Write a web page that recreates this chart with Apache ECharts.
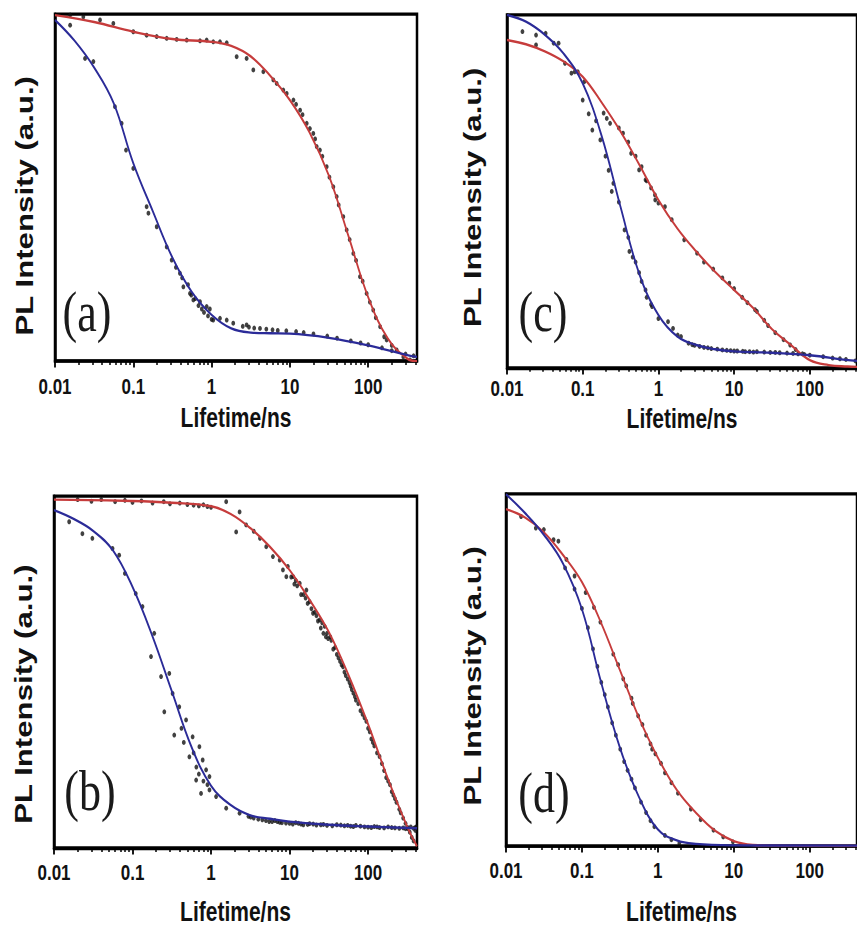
<!DOCTYPE html>
<html>
<head>
<meta charset="utf-8">
<title>PL decay</title>
<script src="https://cdn.jsdelivr.net/npm/echarts@6/dist/echarts.min.js"></script>
<style>
  html, body { margin: 0; padding: 0; width: 857px; height: 926px; background: #fff; overflow: hidden; }
  #wrap { position: relative; width: 857px; height: 926px; overflow: hidden; }
  /* the figure is laid out at 857x712 and stretched vertically to fill 857x926 */
  #chart { position: absolute; left: 0; top: 0; width: 857px; height: 712px; transform: scaleY(1.3006); transform-origin: 0 0; }
</style>
</head>
<body>
<div id="wrap"><div id="chart"></div></div>
<script>
// ---- axis ticks ----
const tickValues = [0.01, 0.1, 1, 10, 100];
const tickLabels = ['0.01', '0.1', '1', '10', '100'];
const minorTickValues = [0.02, 0.03, 0.04, 0.05, 0.06, 0.07, 0.08, 0.09,
  0.2, 0.3, 0.4, 0.5, 0.6, 0.7, 0.8, 0.9,
  2, 3, 4, 5, 6, 7, 8, 9,
  20, 30, 40, 50, 60, 70, 80, 90,
  200, 300, 400];
const xMin = 0.01;
const xMax = 420;
const panelTags = ['(a)', '(b)', '(c)', '(d)'];
const xTitle = 'Lifetime/ns';
const yTitle = 'PL Intensity (a.u.)';

// ---- panel (a): [lifetime ns, normalised intensity] ----
const aRedFit = [[0.01,.997],[0.0316,.977],[0.1,.949],[0.316,.928],[1,.92],[1.78,.908],[3.16,.878],[5.62,.822],[10,.752],[17.8,.659],[31.6,.533],[56.2,.359],[100,.184],[178,.065],[316,.007],[420,0]];
const aBlueFit = [[0.01,.983],[0.0178,.923],[0.0316,.846],[0.0562,.743],[0.1,.57],[0.178,.431],[0.316,.298],[0.562,.198],[1,.133],[1.78,.094],[3.16,.082],[5.62,.08],[10,.079],[31.6,.067],[100,.045],[316,.017],[420,.012]];
const aRedData = [[0.0156,.997],[0.023,.992],[0.0376,.983],[0.0556,.973],[0.1,.949],[0.148,.939],[0.199,.935],[0.267,.93],[0.358,.927],[0.481,.925],[0.711,.923],[0.865,.925],[1.05,.92],[1.28,.92],[1.56,.917],[2.09,.877],[2.8,.872],[3.41,.839],[4.58,.834],[6.14,.81],[6.78,.8],[8.24,.781],[9.1,.771],[11.1,.752],[12,.74],[13.5,.723],[14.5,.71],[16.4,.685],[18,.67],[19.9,.656],[21,.64],[22,.618],[24.2,.608],[26,.59],[29.5,.56],[32,.53],[35.9,.502],[39.6,.474],[42,.45],[48.1,.416],[53.1,.378],[58,.35],[64.6,.31],[70,.29],[78.5,.243],[85,.23],[95.5,.195],[105,.17],[116,.147],[125,.125],[142,.099],[160,.07],[172,.061],[200,.045],[231,.032],[281,.012],[342,.003]];
const aBlueData = [[0.0156,.968],[0.0242,.872],[0.0309,.863],[0.0583,.733],[0.071,.685],[0.0807,.608],[0.1,.555],[0.148,.445],[0.156,.426],[0.199,.387],[0.267,.329],[0.309,.291],[0.35,.27],[0.394,.253],[0.42,.24],[0.436,.214],[0.5,.22],[0.53,.195],[0.55,.19],[0.585,.176],[0.62,.18],[0.68,.16],[0.711,.171],[0.75,.15],[0.8,.14],[0.865,.157],[0.9,.13],[0.95,.15],[1.0,.12],[1.05,.118],[1.28,.123],[1.56,.118],[1.89,.109],[2.5,.1],[2.8,.104],[3,.098],[3.5,.095],[4.15,.094],[5,.092],[6,.09],[7,.088],[9,.087],[12,.085],[15,.082],[20,.078],[30,.072],[40,.066],[60,.058],[80,.052],[100,.047],[150,.038],[200,.03],[300,.02],[380,.015]];

// ---- panel (b) ----
const bRedFit = [[0.01,.99],[0.1,.986],[0.316,.981],[1,.971],[1.78,.949],[3.16,.909],[5.62,.856],[10,.79],[17.8,.707],[31.6,.614],[56.2,.492],[100,.352],[178,.198],[316,.06],[420,.005]];
const bBlueFit = [[0.01,.96],[0.0178,.935],[0.0316,.901],[0.0562,.846],[0.1,.742],[0.178,.604],[0.316,.446],[0.562,.288],[1,.177],[1.78,.122],[3.16,.093],[5.62,.083],[10,.075],[31.6,.066],[100,.061],[420,.056]];
const bRedData = [[0.02,.99],[0.03,.985],[0.04,.99],[0.06,.984],[0.08,.988],[0.1,.982],[0.13,.986],[0.18,.98],[0.25,.984],[0.3,.978],[0.4,.98],[0.5,.976],[0.6,.974],[0.7,.972],[0.8,.975],[0.9,.97],[1.0,.968],[1.56,.984],[2.09,.898],[2.31,.955],[2.8,.918],[3.5,.9],[4.2,.88],[5.05,.856],[6.14,.828],[7.48,.818],[8.24,.79],[9.1,.771],[9.5,.8],[10.5,.77],[11.1,.771],[11.5,.75],[12,.76],[12.5,.745],[13.5,.752],[14,.72],[15,.72],[16,.71],[16.4,.733],[17,.695],[18,.7],[19,.68],[19.9,.667],[21,.67],[22,.66],[23,.645],[24.2,.648],[25,.625],[26,.64],[27,.61],[28,.63],[29,.6],[30,.61],[31,.595],[33,.6],[34,.59],[36,.565],[38,.57],[40,.55],[42,.54],[44,.53],[46,.52],[48,.515],[50,.5],[52,.49],[55,.48],[58,.47],[60,.46],[62,.45],[65,.44],[68,.43],[70,.42],[75,.41],[80,.39],[85,.38],[90,.37],[95,.36],[100,.34],[105,.33],[110,.31],[115,.3],[120,.29],[130,.27],[140,.26],[150,.24],[160,.22],[170,.2],[180,.19],[190,.18],[200,.16],[210,.15],[220,.14],[230,.13],[250,.11],[260,.1],[280,.085],[300,.07],[320,.055],[340,.045],[360,.03],[380,.02],[400,.05],[410,.06]];
const bBlueData = [[0.0156,.927],[0.023,.893],[0.0308,.88],[0.0556,.851],[0.0676,.832],[0.08,.78],[0.11,.723],[0.134,.686],[0.172,.544],[0.189,.61],[0.231,.487],[0.254,.387],[0.294,.496],[0.324,.439],[0.34,.321],[0.394,.401],[0.42,.34],[0.45,.3],[0.481,.364],[0.53,.259],[0.583,.316],[0.6,.27],[0.646,.193],[0.65,.23],[0.7,.21],[0.711,.288],[0.746,.155],[0.783,.25],[0.8,.19],[0.865,.222],[0.9,.18],[0.955,.203],[0.955,.165],[1.16,.146],[1.56,.113],[2.31,.099],[3,.09],[3.2,.088],[3.5,.085],[4,.082],[4.5,.08],[5,.078],[5.5,.075],[6,.075],[6.5,.078],[7,.075],[7.5,.073],[8,.072],[9,.071],[10,.07],[11,.068],[12,.072],[13,.07],[14,.068],[15,.066],[17,.067],[18,.069],[20,.068],[22,.065],[25,.066],[27,.067],[30,.064],[35,.063],[40,.066],[45,.065],[50,.063],[55,.064],[60,.062],[65,.061],[70,.064],[80,.062],[90,.06],[100,.059],[110,.058],[120,.061],[130,.06],[140,.058],[160,.057],[180,.06],[200,.058],[220,.057],[250,.056],[280,.057],[300,.055],[320,.058],[350,.06],[380,.056],[400,.058]];

// ---- panel (c) ----
const cRedFit = [[0.01,.929],[0.0178,.917],[0.0316,.897],[0.0562,.868],[0.1,.825],[0.178,.752],[0.316,.67],[0.562,.575],[1,.476],[1.78,.395],[3.16,.33],[5.62,.272],[10,.221],[17.8,.17],[31.6,.11],[56.2,.065],[100,.022],[178,.008],[316,.004],[420,.003]];
const cBlueFit = [[0.01,1],[0.0178,.981],[0.0316,.944],[0.0562,.89],[0.1,.806],[0.178,.657],[0.316,.456],[0.562,.265],[1,.15],[1.78,.089],[3.16,.065],[5.62,.053],[10,.047],[31.6,.043],[100,.036],[298,.023],[420,.02]];
const cRedData = [[0.071,.835],[0.0863,.839],[0.105,.811],[0.189,.722],[0.208,.707],[0.23,.693],[0.3,.68],[0.341,.665],[0.4,.64],[0.436,.608],[0.5,.6],[0.556,.561],[0.6,.57],[0.676,.533],[0.7,.53],[0.8,.51],[0.9,.49],[0.908,.476],[1.0,.467],[1.22,.457],[1.5,.42],[2.19,.363],[3.24,.325],[4,.3],[5.3,.28],[7,.255],[8.65,.24],[10,.225],[12.8,.2],[15,.185],[18.9,.165],[20,.16],[25,.135],[28.1,.12],[35,.1],[45,.08],[55,.065],[65,.052],[80,.04]];
const cBlueData = [[0.016,.953],[0.0242,.943],[0.0324,.948],[0.0242,.915],[0.0414,.92],[0.048,.92],[0.0583,.863],[0.0783,.839],[0.1,.759],[0.12,.72],[0.134,.674],[0.15,.7],[0.171,.646],[0.2,.6],[0.22,.56],[0.242,.5],[0.254,.523],[0.3,.47],[0.357,.391],[0.4,.37],[0.414,.33],[0.457,.314],[0.5,.3],[0.556,.27],[0.6,.245],[0.676,.221],[0.7,.2],[0.8,.18],[0.824,.174],[1.0,.14],[1.34,.131],[1.56,.112],[1.8,.093],[1.99,.089],[2.5,.07],[2.8,.066],[3,.064],[3.5,.061],[4,.058],[4.5,.057],[5,.055],[6,.053],[7,.051],[8,.05],[9,.049],[10,.048],[11,.048],[13,.047],[14,.046],[16,.046],[18,.045],[20,.046],[25,.045],[30,.044],[35,.044],[40,.043],[50,.042],[60,.041],[70,.04],[85,.038],[100,.036],[150,.032],[200,.028],[250,.026],[300,.024],[400,.02]];

// ---- panel (d) ----
const dRedFit = [[0.01,.957],[0.0178,.933],[0.0316,.891],[0.0562,.827],[0.1,.75],[0.178,.635],[0.316,.5],[0.562,.365],[1,.251],[1.78,.159],[3.16,.095],[5.62,.044],[10,.014],[17.8,.003],[31.6,.001],[420,0]];
const dBlueFit = [[0.01,.999],[0.0178,.946],[0.0316,.884],[0.0562,.803],[0.1,.673],[0.178,.467],[0.316,.28],[0.562,.14],[1,.047],[1.78,.016],[3.16,.006],[10,.002],[420,.001]];
const dRedData = [[0.0158,.936],[0.0247,.903],[0.0315,.899],[0.0423,.87],[0.049,.866],[0.0625,.814],[0.08,.767],[0.112,.72],[0.144,.678],[0.175,.636],[0.259,.545],[0.3,.515],[0.35,.475],[0.384,.455],[0.45,.42],[0.467,.405],[0.55,.37],[0.627,.345],[0.7,.315],[0.8,.29],[0.841,.275],[0.927,.262],[1.1,.235],[1.24,.208],[1.51,.18],[1.84,.15],[2.72,.105],[3.66,.075],[5.41,.045],[7.26,.026],[9.75,.012]];
const dBlueData = [[0.06,.79],[0.08,.73],[0.1,.675],[0.12,.62],[0.14,.56],[0.16,.51],[0.18,.465],[0.2,.43],[0.22,.395],[0.25,.35],[0.28,.315],[0.32,.275],[0.36,.24],[0.4,.215],[0.45,.19],[0.5,.165],[0.6,.125],[0.7,.095],[0.8,.072],[0.9,.055],[1.24,.03],[1.51,.018],[1.92,.008]];

const panelData = [
  { redFit: aRedFit, blueFit: aBlueFit, redData: aRedData, blueData: aBlueData },
  { redFit: bRedFit, blueFit: bBlueFit, redData: bRedData, blueData: bBlueData },
  { redFit: cRedFit, blueFit: cBlueFit, redData: cRedData, blueData: cBlueData },
  { redFit: dRedFit, blueFit: dBlueFit, redData: dRedData, blueData: dBlueData }
];

// ---- layout (in the unstretched 857x712 frame) ----
const panelLayout = [
  { grid: { left: 55,  top: 10.8,  width: 362, height: 266.8 }, labelMargin: 11, nameGap: 33,   yNameGap: 18, yNameShift: 28, tag: [62.6, 218] },
  { grid: { left: 54,  top: 381.4, width: 363, height: 270.6 }, labelMargin: 10, nameGap: 38,   yNameGap: 18, yNameShift: 34, tag: [64.3, 586.5] },
  { grid: { left: 507, top: 11.5,  width: 362, height: 271.4 }, labelMargin: 7,  nameGap: 28,   yNameGap: 22, yNameShift: 9,  tag: [518.6, 218] },
  { grid: { left: 506, top: 379.8, width: 363, height: 273.0 }, labelMargin: 10, nameGap: 39.5, yNameGap: 21, yNameShift: 9,  tag: [518.3, 587.5] }
];

const RED = '#c63c3c';
const BLUE = '#2b2b98';
const DOT = '#111';
const SANS = 'Liberation Sans, Arial, sans-serif';
const SERIF = 'Liberation Serif, Times New Roman, serif';

function tickText(v) {
  let best = 0;
  tickValues.forEach((t, i) => {
    if (Math.abs(Math.log10(t) - Math.log10(v)) < Math.abs(Math.log10(tickValues[best]) - Math.log10(v))) best = i;
  });
  return tickLabels[best];
}

const option = {
  animation: false,
  backgroundColor: '#fff',
  title: [],
  grid: [],
  xAxis: [],
  yAxis: [],
  series: []
};

panelLayout.forEach((lay, i) => {
  option.title.push({
    text: panelTags[i], left: lay.tag[0], top: lay.tag[1], padding: 0,
    textStyle: { fontFamily: SERIF, fontSize: 44, fontWeight: 'normal', color: '#1a1a1a' }
  });
  option.grid.push(Object.assign({ show: true, borderColor: '#000', borderWidth: 2.5, backgroundColor: 'transparent' }, lay.grid));

  // decade ticks and labels
  option.xAxis.push({
    type: 'log', logBase: 10, gridIndex: i, min: xMin, max: xMax, position: 'bottom',
    axisLine: { show: true, onZero: false, lineStyle: { color: '#000', width: 2.5 } },
    axisTick: { show: true, inside: false, length: 5, customValues: tickValues, lineStyle: { color: '#000', width: 1.8 } },
    axisLabel: { show: true, customValues: tickValues, margin: lay.labelMargin, formatter: tickText,
      fontFamily: SANS, fontWeight: 'bold', fontSize: 17, color: '#111' },
    splitLine: { show: false },
    name: xTitle, nameLocation: 'middle', nameGap: lay.nameGap,
    nameTextStyle: { fontFamily: SANS, fontWeight: 'bold', fontSize: 21, color: '#111' }
  });
  // minor ticks between decades
  option.xAxis.push({
    type: 'log', logBase: 10, gridIndex: i, min: xMin, max: xMax, position: 'bottom', offset: 0,
    axisLine: { show: false },
    axisTick: { show: true, inside: false, length: 3, customValues: minorTickValues, lineStyle: { color: '#000', width: 1.5 } },
    axisLabel: { show: false },
    splitLine: { show: false }
  });
  option.yAxis.push({
    type: 'value', gridIndex: i, min: 0, max: 1,
    axisLine: { show: true, onZero: false, lineStyle: { color: '#000', width: 2.5 } },
    axisTick: { show: false }, axisLabel: { show: false }, splitLine: { show: false },
    name: yTitle, nameLocation: 'middle', nameGap: lay.yNameGap,
    nameTextStyle: { fontFamily: SANS, fontWeight: 'bold', fontSize: 24, color: '#111', padding: [0, lay.yNameShift, 0, 0] }
  });

  const d = panelData[i];
  const xi = 2 * i;
  [d.redData, d.blueData].forEach((pts, k) => {
    option.series.push({
      type: 'scatter', name: (k ? 'blue' : 'red') + ' data ' + panelTags[i],
      xAxisIndex: xi, yAxisIndex: i, data: pts, symbol: 'circle', symbolSize: 3.8,
      itemStyle: { color: DOT }, z: 2, silent: true
    });
  });
  [[d.redFit, RED], [d.blueFit, BLUE]].forEach(([pts, col], k) => {
    option.series.push({
      type: 'line', name: (k ? 'blue' : 'red') + ' fit ' + panelTags[i],
      xAxisIndex: xi, yAxisIndex: i, data: pts, showSymbol: false, smooth: 0.4,
      lineStyle: { color: col, width: 1.8 }, z: 3, silent: true
    });
  });
});

const chart = echarts.init(document.getElementById('chart'), null, { renderer: 'svg' });
chart.setOption(option);
</script>
</body>
</html>
